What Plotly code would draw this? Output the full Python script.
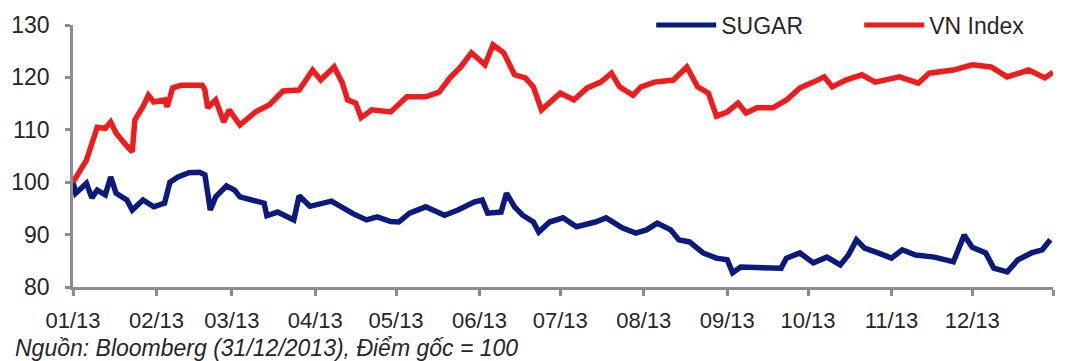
import plotly.graph_objects as go

# VN Index, rebased to 100 on 01/01/2013
vn_dates = [
    "2013-01-01", "2013-01-03", "2013-01-06", "2013-01-10", "2013-01-13", "2013-01-15",
    "2013-01-17", "2013-01-20", "2013-01-23", "2013-01-24", "2013-01-27", "2013-01-29",
    "2013-01-31", "2013-02-04", "2013-02-05", "2013-02-07", "2013-02-10", "2013-02-18",
    "2013-02-19", "2013-02-20", "2013-02-23", "2013-02-26", "2013-02-28", "2013-03-04",
    "2013-03-10", "2013-03-15", "2013-03-20", "2013-03-26", "2013-03-31", "2013-04-03",
    "2013-04-08", "2013-04-11", "2013-04-13", "2013-04-16", "2013-04-18", "2013-04-22",
    "2013-04-29", "2013-05-05", "2013-05-12", "2013-05-17", "2013-05-21", "2013-05-25",
    "2013-05-29", "2013-06-03", "2013-06-06", "2013-06-10", "2013-06-14", "2013-06-18",
    "2013-06-21", "2013-06-24", "2013-06-27", "2013-07-01", "2013-07-06", "2013-07-11",
    "2013-07-16", "2013-07-20", "2013-07-23", "2013-07-28", "2013-07-31", "2013-08-05",
    "2013-08-12", "2013-08-17", "2013-08-21", "2013-08-25", "2013-08-28", "2013-09-01",
    "2013-09-05", "2013-09-08", "2013-09-12", "2013-09-18", "2013-09-23", "2013-09-28",
    "2013-10-03", "2013-10-07", "2013-10-10", "2013-10-15", "2013-10-21", "2013-10-26",
    "2013-11-04", "2013-11-11", "2013-11-15", "2013-11-24", "2013-12-01", "2013-12-08",
    "2013-12-14", "2013-12-22", "2013-12-28", "2013-12-31",
]
vn_values = [
    100.0, 101.8, 104.2, 110.5, 110.3, 111.5,
    109.4, 107.5, 105.8, 111.9, 114.4, 116.6,
    115.3, 115.7, 114.4, 118.0, 118.5, 118.5,
    117.6, 114.2, 115.7, 111.5, 113.8, 110.9,
    113.5, 114.8, 117.4, 117.6, 121.4, 119.5,
    122.0, 119.0, 115.7, 115.1, 112.3, 113.8,
    113.4, 116.3, 116.3, 117.2, 119.9, 122.0,
    124.7, 122.4, 126.2, 124.7, 120.5, 119.9,
    118.2, 113.8, 115.3, 117.0, 115.7, 118.0,
    119.1, 120.8, 118.2, 116.6, 118.2, 119.1,
    119.5, 122.0, 118.2, 117.0, 112.6, 113.4,
    115.1, 113.2, 114.2, 114.2, 115.7, 118.0,
    119.1, 120.1, 118.2, 119.5, 120.5, 119.1,
    120.1, 118.9, 120.8, 121.4, 122.4, 122.0,
    120.1, 121.4, 119.9, 121.0,
]

# SUGAR share price, rebased to 100 on 01/01/2013
sugar_dates = [
    "2013-01-01", "2013-01-02", "2013-01-06", "2013-01-08", "2013-01-10", "2013-01-13",
    "2013-01-15", "2013-01-17", "2013-01-21", "2013-01-23", "2013-01-27", "2013-01-31",
    "2013-02-04", "2013-02-06", "2013-02-09", "2013-02-13", "2013-02-17", "2013-02-19",
    "2013-02-21", "2013-02-23", "2013-02-27", "2013-03-02", "2013-03-04", "2013-03-08",
    "2013-03-13", "2013-03-14", "2013-03-18", "2013-03-24", "2013-03-26", "2013-03-30",
    "2013-04-07", "2013-04-15", "2013-04-20", "2013-04-24", "2013-04-29", "2013-05-02",
    "2013-05-06", "2013-05-12", "2013-05-19", "2013-05-24", "2013-05-30", "2013-06-02",
    "2013-06-04", "2013-06-09", "2013-06-11", "2013-06-14", "2013-06-17", "2013-06-21",
    "2013-06-23", "2013-06-27", "2013-07-02", "2013-07-07", "2013-07-14", "2013-07-18",
    "2013-07-24", "2013-07-29", "2013-08-02", "2013-08-06", "2013-08-11", "2013-08-14",
    "2013-08-18", "2013-08-23", "2013-08-28", "2013-09-01", "2013-09-03", "2013-09-06",
    "2013-09-12", "2013-09-21", "2013-09-23", "2013-09-28", "2013-10-03", "2013-10-08",
    "2013-10-13", "2013-10-16", "2013-10-19", "2013-10-22", "2013-10-27", "2013-11-01",
    "2013-11-05", "2013-11-10", "2013-11-17", "2013-11-24", "2013-11-28", "2013-12-01",
    "2013-12-06", "2013-12-09", "2013-12-14", "2013-12-18", "2013-12-23", "2013-12-27",
    "2013-12-30",
]
sugar_values = [
    100.0, 97.9, 99.8, 97.0, 98.5, 97.6,
    101.0, 97.9, 96.6, 94.7, 96.6, 95.3,
    96.0, 100.0, 101.0, 101.8, 101.9, 101.4,
    94.7, 97.2, 99.3, 98.5, 97.2, 96.6,
    96.0, 93.6, 94.3, 92.8, 97.4, 95.4,
    96.4, 94.0, 92.8, 93.4, 92.5, 92.4,
    94.1, 95.3, 93.7, 94.7, 96.2, 96.6,
    94.1, 94.3, 97.9, 95.3, 93.7, 92.4,
    90.5, 92.4, 93.2, 91.5, 92.4, 93.2,
    91.3, 90.3, 90.9, 92.2, 90.9, 89.0,
    88.6, 86.5, 85.5, 85.2, 82.7, 83.8,
    83.8, 83.6, 85.5, 86.5, 84.6, 85.7,
    84.2, 86.1, 89.0, 87.4, 86.5, 85.5,
    87.1, 86.1, 85.7, 84.8, 89.9, 87.6,
    86.5, 83.6, 82.9, 85.2, 86.5, 87.1,
    89.0,
]

tick_dates = [
    "2013-01-01", "2013-02-01", "2013-03-01", "2013-04-01", "2013-05-01", "2013-06-01",
    "2013-07-01", "2013-08-01", "2013-09-01", "2013-10-01", "2013-11-01", "2013-12-01",
    "2013-12-31",
]
tick_labels = [
    "01/13", "02/13", "03/13", "04/13", "05/13", "06/13",
    "07/13", "08/13", "09/13", "10/13", "11/13", "12/13", "",
]

FONT = "Liberation Sans, Arial, sans-serif"
TEXT = "#262626"
AXIS = "#8c8c8c"

fig = go.Figure()
fig.add_trace(go.Scatter(
    x=sugar_dates, y=sugar_values, name="SUGAR", mode="lines",
    line=dict(color="#0b1a7c", width=5.5),
))
fig.add_trace(go.Scatter(
    x=vn_dates, y=vn_values, name="VN Index", mode="lines",
    line=dict(color="#ee1c1c", width=5.5),
))

fig.update_layout(
    width=1068, height=361,
    margin=dict(l=73, r=1, t=25, b=74),
    paper_bgcolor="white", plot_bgcolor="white",
    font=dict(family=FONT, size=23, color=TEXT),
    showlegend=True,
    legend=dict(
        orientation="h", x=0.590, xanchor="left", y=1.0, yanchor="middle",
        font=dict(size=23, color=TEXT), bgcolor="rgba(0,0,0,0)",
        itemwidth=60, tracegroupgap=0, itemsizing="constant",
        entrywidth=133, entrywidthmode="pixels",
    ),
    xaxis=dict(
        type="date", range=["2013-01-01", "2013-12-31"],
        tickmode="array", tickvals=tick_dates, ticktext=tick_labels,
        showgrid=False, zeroline=False,
        showline=True, linecolor=AXIS, linewidth=2.5,
        ticks="outside", ticklen=6, tickwidth=2.5, tickcolor=AXIS,
        tickfont=dict(size=22, color=TEXT), ticklabelstandoff=6,
    ),
    yaxis=dict(
        range=[80, 130], tickmode="linear", tick0=80, dtick=10,
        showgrid=False, zeroline=False,
        showline=True, linecolor=AXIS, linewidth=2.5,
        ticks="outside", ticklen=5, tickwidth=2.5, tickcolor=AXIS,
        tickfont=dict(size=23, color=TEXT), ticklabelstandoff=11,
    ),
    annotations=[dict(
        text="<i>Nguồn: Bloomberg (31/12/2013), Điểm gốc = 100</i>",
        xref="paper", yref="paper", x=-0.0614, y=-0.231,
        xanchor="left", yanchor="middle", showarrow=False,
        font=dict(size=23, color=TEXT, family=FONT),
    )],
)

fig.write_html("out.html")
